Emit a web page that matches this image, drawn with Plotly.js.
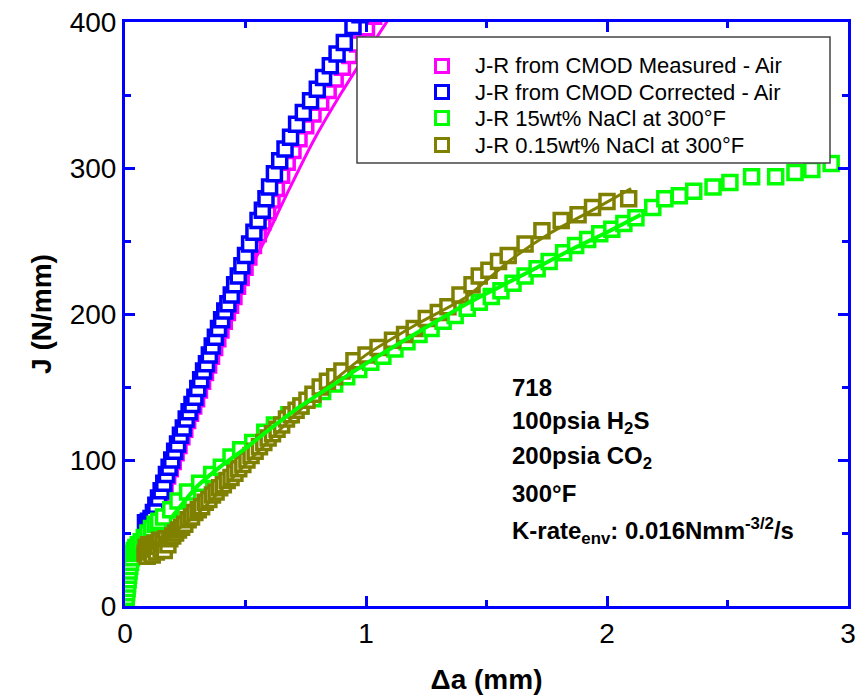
<!DOCTYPE html>
<html>
<head>
<meta charset="utf-8">
<script src="https://cdn.plot.ly/plotly-3.0.1.min.js"></script>
<style>html,body{margin:0;padding:0;background:#fff;}#chart{width:865px;height:699px;}</style>
</head>
<body>
<div id="chart"></div>
<script>
// ---- Data ----
const legendNames = [
  'J-R from CMOD Measured - Air',
  'J-R from CMOD Corrected - Air',
  'J-R 15wt% NaCl at 300\u00b0F',
  'J-R 0.15wt% NaCl at 300\u00b0F'
];

// Measured - Air (magenta squares)
const measX = [0.090,0.102,0.113,0.123,0.133,0.144,0.155,0.166,0.177,0.188,0.200,0.212,0.224,0.236,0.248,0.260,0.272,0.285,0.297,0.309,0.322,0.334,0.347,0.359,0.372,0.385,0.398,0.412,0.425,0.438,0.452,0.467,0.482,0.498,0.514,0.533,0.553,0.572,0.592,0.610,0.628,0.650,0.673,0.697,0.722,0.750,0.780,0.812,0.843,0.872,0.902,0.933,0.965,1.002,1.032];
const measJ = [55,57,59,63,68,73,78,83,89,94,99,105,110,116,121,127,132,137,142,148,154,160,165,171,177,183,189,195,201,206,212,219,225,232,239,247,255,263,270,278,286,295,304,312,320,329,337,345,353,361,369,377,385,396,404];
// Measured - Air fit line
const measFitX = [0.25,0.35,0.45,0.51,0.573,0.68,0.78,0.90,1.00,1.09,1.12];
const measFitJ = [122,165,207,228,248,285,318,352,378,401,408];

// Corrected - Air (blue squares)
const corrX = [0.085,0.097,0.108,0.118,0.128,0.139,0.150,0.161,0.172,0.183,0.194,0.206,0.218,0.230,0.242,0.254,0.266,0.278,0.290,0.302,0.314,0.326,0.338,0.350,0.362,0.375,0.388,0.401,0.414,0.427,0.441,0.455,0.470,0.485,0.500,0.517,0.535,0.552,0.570,0.585,0.600,0.620,0.642,0.664,0.687,0.712,0.740,0.770,0.798,0.824,0.852,0.880,0.910,0.946,0.975];
const corrJ = [57,58,60,64,69,74,79,84,90,95,100,106,111,117,122,128,133,138,143,149,155,161,166,172,178,184,190,196,202,207,213,220,226,233,240,248,256,264,271,279,287,296,305,313,321,330,338,346,354,362,370,378,386,397,405];

// 15wt% NaCl (green squares)
const naclX = [0.000,0.003,0.005,0.007,0.009,0.011,0.013,0.015,0.017,0.020,0.023,0.027,0.032,0.038,0.045,0.055,0.067,0.080,0.095,0.110,0.125,0.140,0.160,0.190,0.220,0.260,0.310,0.360,0.400,0.440,0.480,0.530,0.580,0.620,0.680,0.730,0.780,0.820,0.870,0.920,0.970,1.020,1.070,1.120,1.170,1.220,1.270,1.320,1.370,1.420,1.470,1.520,1.560,1.610,1.660,1.710,1.760,1.820,1.870,1.920,1.970,2.020,2.070,2.120,2.190,2.240,2.300,2.360,2.440,2.510,2.600,2.700,2.780,2.850,2.930];
const naclJ = [0,3,6,9,12,15,18,21,24,27,30,33,36,38,40,42,44,47,50,53,56,58,61,66,72,78,84,90,95,102,107,112,119,124,131,137,142,147,152,157,162,167,171,176,181,186,190,195,199,204,208,212,216,221,226,231,236,242,247,251,255,258,262,266,273,279,281,284,287,290,294,294,297,299,303];
// 15wt% NaCl fit line
const naclFitX = [0.19,0.30,0.40,0.50,0.60,0.73,0.85,1.00,1.20,1.43,1.56,1.70,1.85,2.00,2.14];
const naclFitJ = [60,82,96,108,121,137,150,166,186,208,219,231,244,256,268];

// 0.15wt% NaCl (olive squares)
const lowX = [0.083,0.088,0.092,0.097,0.102,0.108,0.113,0.118,0.124,0.130,0.136,0.143,0.150,0.157,0.163,0.170,0.178,0.186,0.198,0.210,0.222,0.235,0.248,0.262,0.276,0.290,0.304,0.318,0.333,0.348,0.363,0.378,0.393,0.408,0.424,0.440,0.456,0.472,0.489,0.506,0.523,0.540,0.558,0.576,0.594,0.612,0.631,0.650,0.670,0.690,0.710,0.730,0.755,0.780,0.810,0.840,0.870,0.900,0.950,1.000,1.050,1.110,1.160,1.200,1.250,1.300,1.340,1.390,1.440,1.470,1.510,1.550,1.590,1.660,1.730,1.810,1.880,1.940,2.000,2.090];
const lowJ = [36,40,34,42,37,41,35,39,43,37,41,45,39,43,38,46,42,46,48,50,52,54,56,59,61,64,66,68,71,73,76,78,81,83,86,88,91,94,97,100,103,106,109,112,115,118,121,124,128,131,134,137,141,145,150,154,157,161,168,172,177,182,186,190,197,201,205,213,220,226,230,236,240,248,257,264,268,273,277,279];
// 0.15wt% NaCl fit line
const lowFitX = [0.10,0.30,0.50,0.75,1.00,1.20,1.42,1.60,1.76,1.95,2.10];
const lowFitJ = [38,63,97,138,172,192,212,237,255,272,286];

const colors = ['#FF00FF', '#0000FF', '#00FF00', '#808000'];

const textLines = [
  '718',
  '100psia H<sub>2</sub>S',
  '200psia CO<sub>2</sub>',
  '300\u00b0F',
  'K-rate<sub>env</sub>: 0.016Nmm<sup>-3/2</sup>/s'
];
const textJ = [150, 125.5, 101.5, 77, 51.5];
const textXpos = 1.597;

// ---- Build ----
const FONT = 'Liberation Sans, Arial, Helvetica, sans-serif';
const W = 865, H = 699, ML = 125, MR = 17, MT = 22, MB = 93;
const PW = W - ML - MR, PH = H - MT - MB;
const px = v => (v - ML) / PW;        // pixel x -> paper x
const py = v => (H - MB - v) / PH;    // pixel y -> paper y

function markerTrace(x, y, i, size) {
  return {
    x: x, y: y, type: 'scatter', mode: 'markers', name: legendNames[i], showlegend: false,
    marker: {symbol: 'square', size: size, color: '#FFFFFF', line: {color: colors[i], width: 3.5}}
  };
}
function lineTrace(x, y, i, w) {
  return {
    x: x, y: y, type: 'scatter', mode: 'lines', showlegend: false,
    line: {color: colors[i], width: w, shape: 'spline', smoothing: 0.6}, hoverinfo: 'skip'
  };
}

const traces = [
  markerTrace(measX, measJ, 0, 14),
  lineTrace(measFitX, measFitJ, 0, 3),
  markerTrace(corrX, corrJ, 1, 14),
  markerTrace(naclX, naclJ, 2, 14),
  markerTrace(lowX, lowJ, 3, 14),
  lineTrace(lowFitX, lowFitJ, 3, 3),
  lineTrace(naclFitX, naclFitJ, 2, 4)
];

const axisCommon = {
  showline: true, linecolor: '#0000FF', linewidth: 3, mirror: 'ticks',
  ticks: 'inside', ticklen: 10, tickwidth: 3, tickcolor: '#0000FF',
  showgrid: false, zeroline: false,
  tickfont: {family: FONT, size: 28, color: '#000'},
  automargin: false
};

const annotations = textLines.map((t, k) => ({
  x: textXpos, y: textJ[k], xref: 'x', yref: 'y', text: '<b>' + t + '</b>',
  showarrow: false, xanchor: 'left', yanchor: 'middle',
  font: {family: FONT, size: 24, color: '#000'}
}));

// legend (box, symbols, labels)
const legRowsY = [66, 92, 118, 145];
const legSymX = 442, legTextX = 473, half = 6.5;
const shapes = [{
  type: 'rect', xref: 'paper', yref: 'paper',
  x0: px(357), x1: px(830), y0: py(163), y1: py(37),
  fillcolor: '#FFFFFF', line: {color: '#444', width: 1.5}, layer: 'above'
}];
legendNames.forEach((n, i) => {
  shapes.push({
    type: 'rect', xref: 'paper', yref: 'paper',
    x0: px(legSymX - half), x1: px(legSymX + half),
    y0: py(legRowsY[i] + half), y1: py(legRowsY[i] - half),
    fillcolor: '#FFFFFF', line: {color: colors[i], width: 3}, layer: 'above'
  });
  annotations.push({
    x: px(legTextX), y: py(legRowsY[i]), xref: 'paper', yref: 'paper', text: n,
    showarrow: false, xanchor: 'left', yanchor: 'middle',
    font: {family: FONT, size: 22, color: '#000'}
  });
});

const layout = {
  width: W, height: H,
  margin: {l: ML, r: MR, t: MT, b: MB},
  paper_bgcolor: '#fff', plot_bgcolor: '#fff',
  showlegend: false,
  xaxis: Object.assign({}, axisCommon, {
    range: [0, 3], tick0: 0, dtick: 1,
    minor: {dtick: 0.5, ticklen: 6, tickwidth: 3, tickcolor: '#0000FF', ticks: 'inside'},
    title: {text: '<b>\u0394a (mm)</b>', font: {family: FONT, size: 28, color: '#000'}, standoff: 22}
  }),
  yaxis: Object.assign({}, axisCommon, {
    range: [0, 400], tick0: 0, dtick: 100,
    minor: {dtick: 50, ticklen: 6, tickwidth: 3, tickcolor: '#0000FF', ticks: 'inside'},
    title: {text: '<b>J (N/mm)</b>', font: {family: FONT, size: 28, color: '#000'}, standoff: 10}
  }),
  shapes: shapes,
  annotations: annotations
};

Plotly.newPlot('chart', traces, layout, {displayModeBar: false, staticPlot: true});
</script>
</body>
</html>
